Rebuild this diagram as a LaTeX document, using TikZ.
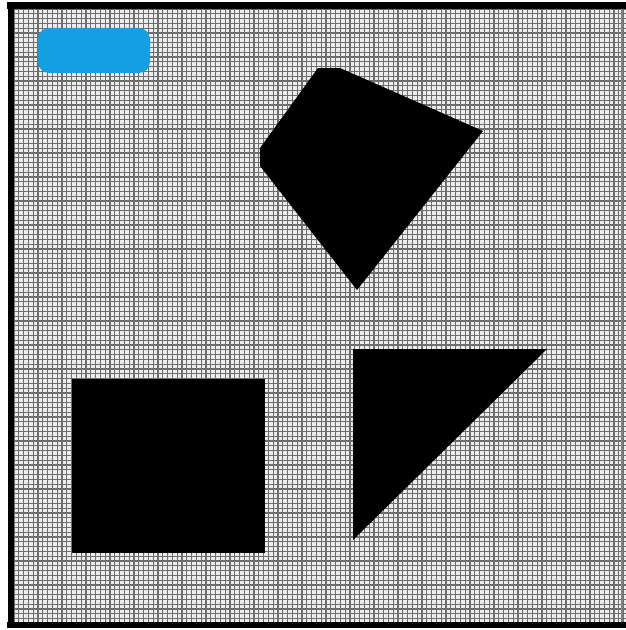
\documentclass[tikz,border=0pt]{standalone}
\definecolor{tileblue}{RGB}{18,160,226}
\definecolor{gridgray}{RGB}{110,110,110}
\begin{document}
\begin{tikzpicture}[x=0.05cm, y=-0.05cm]
            \useasboundingbox (0,0) rectangle (626,630);
            % grid background
            \fill[white] (0,0) rectangle (626,630);
            \fill[gray!15] (14,9) rectangle (626,622);
            \begin{scope}
                \clip (14,9) rectangle (626,622);
                \foreach \i in {0,...,128} {
                    \draw[gridgray, line width=1.9pt] (14+4.8*\i,9) -- (14+4.8*\i,622);
                    \draw[gridgray, line width=1.9pt] (14,9+4.8*\i) -- (626,9+4.8*\i);
                }
            \end{scope}
            % frame
            \draw[line width=10pt] (7,5.5) -- (626,5.5);
            \draw[line width=8.5pt] (11,2) -- (11,628);
            \draw[line width=8.5pt] (7,625) -- (626,625);
            \draw[gray, line width=1.5pt] (622,9) -- (622,622);
            % shapes
            \fill[tileblue, rounded corners=16pt] (38,28) rectangle (150,73);
            \fill (318,68) -- (340,68) -- (483,131) -- (357,290) -- (260,166) -- (260,148) -- cycle;
            \fill (72,379) rectangle (265,553);
            \fill (353,349) -- (547,349) -- (353,540) -- cycle;
        \end{tikzpicture}
\end{document}
